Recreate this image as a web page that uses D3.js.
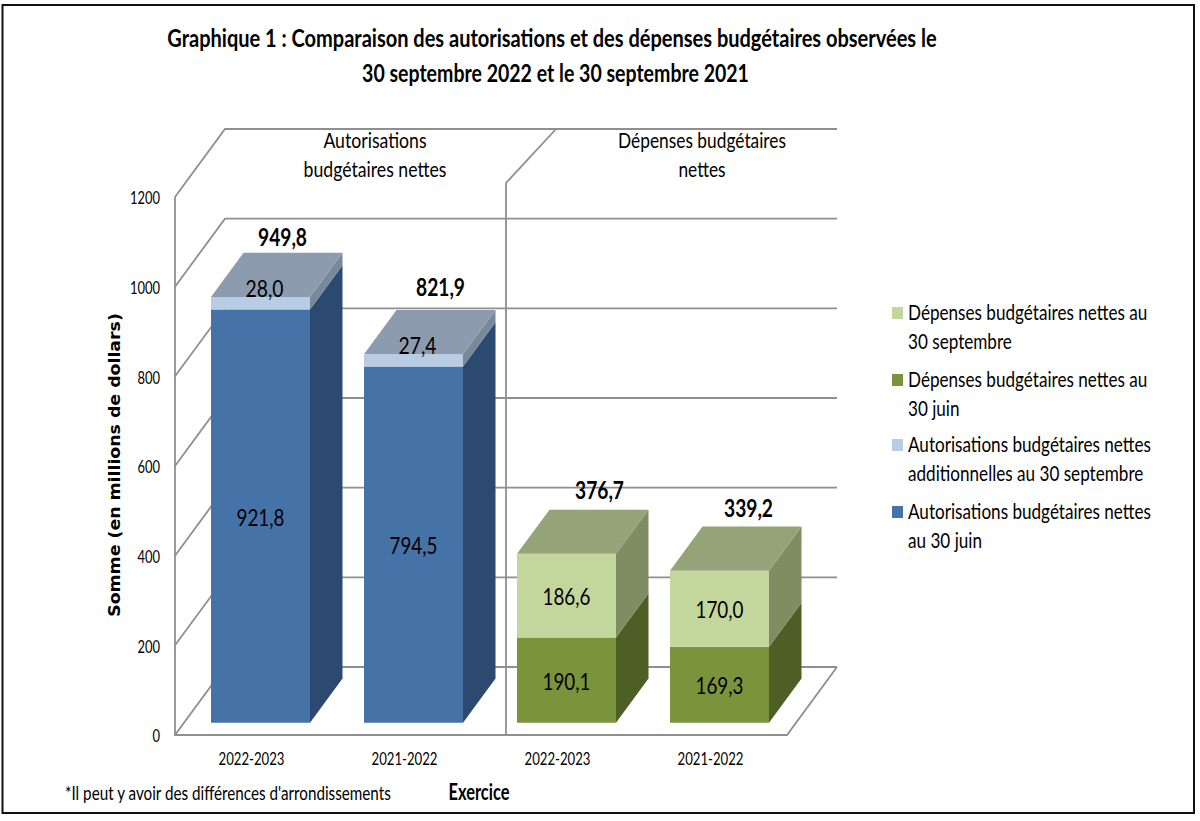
<!DOCTYPE html>
<html>
<head>
<meta charset="utf-8">
<script src="https://cdn.jsdelivr.net/npm/d3@7"></script>
<style>
html, body { margin: 0; padding: 0; background: #fff; }
svg { display: block; }
text { font-family: Lato, "Liberation Sans", sans-serif; fill: #000; }
</style>
</head>
<body>
<div id="chart"></div>
<script>
var categories = ['2022-2023', '2021-2022', '2022-2023 ', '2021-2022 '];
var yTicks = [0, 200, 400, 600, 800, 1000, 1200];

var autorisationsJuin = [921.8, 794.5, 0, 0];
var autorisationsSept = [28.0, 27.4, 0, 0];
var depensesJuin = [0, 0, 190.1, 169.3];
var depensesSept = [0, 0, 186.6, 170.0];
var totals = [949.8, 821.9, 376.7, 339.2];

var titleLines = ['Graphique 1 : Comparaison des autorisations et des dépenses budgétaires observées le', '30 septembre 2022 et le 30 septembre 2021'];
var legendLabels = [
	['Dépenses budgétaires nettes au', '30 septembre'],
	['Dépenses budgétaires nettes au', '30 juin'],
	['Autorisations budgétaires nettes', 'additionnelles au 30 septembre'],
	['Autorisations budgétaires nettes', 'au 30 juin']
];

var width = 1200, height = 821;
var depthX = 50, depthY = 68;   // floor depth, front edge to back wall
var barZ0 = 0.18, barZ1 = 0.83; // where the bars sit in that depth

var svg = d3.select('#chart').append('svg')
	.attr('width', width)
	.attr('height', height);

svg.append('rect')
	.attr('x', 2.5).attr('y', 5)
	.attr('width', 1191.5).attr('height', 808)
	.attr('fill', '#fff')
	.attr('stroke', '#111')
	.attr('stroke-width', 2);

var x = d3.scaleBand().domain(categories).range([175, 787]);
var y = d3.scaleLinear().domain([0, 1200]).range([735, 197]);

var rows = categories.map(function(c, i) {
	return {cat: c, aJuin: autorisationsJuin[i], aSept: autorisationsSept[i], dJuin: depensesJuin[i], dSept: depensesSept[i], total: totals[i]};
});
var series = d3.stack().keys(['aJuin', 'aSept', 'dJuin', 'dSept'])(rows);

var colors = {
	aJuin: {front: '#4572a7', side: '#2c4a70', top: '#8c9bad'},
	aSept: {front: '#b8cce4', side: '#78899a', top: '#8c9bad'},
	dJuin: {front: '#7a943c', side: '#4d5f25', top: '#94a478'},
	dSept: {front: '#c3d69b', side: '#7e8d62', top: '#94a478'}
};

var numFormat = d3.formatLocale({decimal: ',', thousands: ' ', grouping: [3], currency: ['', '']}).format('.1f');
var path = d3.line();

// value + depth -> screen point
function pt(px, v, z) {
	return [px + z * depthX, y(v) - z * depthY];
}

// no Calibri here, so squeeze the text so the longest one gets the wanted width
function fitTo(sel, target) {
	var longest = 0;
	sel.each(function() { longest = Math.max(longest, this.getComputedTextLength()); });
	var k = target / longest;
	sel.each(function() {
		var t = d3.select(this);
		var tx = +t.attr('x') || 0, ty = +t.attr('y') || 0;
		t.attr('x', 0).attr('y', 0)
			.attr('transform', 'translate(' + tx + ',' + ty + ') scale(' + k + ',1)');
	});
}

// walls and floor
var grid = svg.append('g')
	.attr('fill', 'none')
	.attr('stroke', '#8f8f8f')
	.attr('stroke-width', 1.8);

var x0 = x.range()[0], x1 = x.range()[1];

grid.selectAll('.wall')
	.data(yTicks)
	.enter().append('path')
	.attr('d', function(d) {
		return path([[x0, y(d)], pt(x0, d, 1), pt(x1, d, 1)]);
	});
grid.append('path').attr('d', path([[x0, y(1200)], [x0, y(0)], [x1, y(0)], pt(x1, 0, 1)]));

var middle = x(categories[2]) + depthX / 2;
grid.append('path').attr('d', path([pt(middle, 1200, 1), [middle, y(1200) - 14], [middle, y(0)]]));

// bars
var barWidth = 99;
function barLeft(d) {
	return x(d.data.cat) + (x.bandwidth() - barWidth) / 2;
}

series.forEach(function(s) {
	var c = colors[s.key];
	var g = svg.append('g');
	var segs = s.filter(function(d) { return d[1] > d[0]; });

	g.selectAll('.side').data(segs).enter().append('path')
		.attr('fill', c.side)
		.attr('d', function(d) {
			var r = barLeft(d) + barWidth;
			return path([pt(r, d[0], barZ0), pt(r, d[0], barZ1), pt(r, d[1], barZ1), pt(r, d[1], barZ0)]) + 'Z';
		});
	g.selectAll('.front').data(segs).enter().append('path')
		.attr('fill', c.front)
		.attr('d', function(d) {
			var l = barLeft(d), r = l + barWidth;
			return path([pt(l, d[0], barZ0), pt(r, d[0], barZ0), pt(r, d[1], barZ0), pt(l, d[1], barZ0)]) + 'Z';
		});
	g.selectAll('.top').data(segs.filter(function(d) { return Math.abs(d[1] - d.data.aJuin - d.data.aSept - d.data.dJuin - d.data.dSept) < 0.01; }))
		.enter().append('path')
		.attr('fill', c.top)
		.attr('d', function(d) {
			var l = barLeft(d), r = l + barWidth;
			return path([pt(l, d[1], barZ0), pt(r, d[1], barZ0), pt(r, d[1], barZ1), pt(l, d[1], barZ1)]) + 'Z';
		});
});

// segment labels
var nudge = {aJuin: [0, 1], aSept: [4, -15], dJuin: [0, 1], dSept: [0, 1]};
series.forEach(function(s) {
	var t = svg.append('g').selectAll('text')
		.data(s.filter(function(d) { return d[1] > d[0]; }))
		.enter().append('text')
		.attr('text-anchor', 'middle')
		.attr('dy', '0.35em')
		.attr('font-size', 24)
		.attr('x', function(d) { return pt(barLeft(d) + barWidth / 2, 0, barZ0)[0] + nudge[s.key][0]; })
		.attr('y', function(d) { return pt(0, (d[0] + d[1]) / 2, barZ0)[1] + nudge[s.key][1]; })
		.text(function(d) { return numFormat(d[1] - d[0]); });
	fitTo(t, s.key === 'aSept' ? 38 : 48);
});

// totals
var totalNudge = [[22, -15], [27, -22], [33, -19], [29, -18]];
var totalText = svg.append('g').selectAll('text')
	.data(rows)
	.enter().append('text')
	.attr('text-anchor', 'middle')
	.attr('dy', '0.35em')
	.attr('font-size', 24)
	.attr('font-weight', 'bold')
	.attr('x', function(d, i) { return x(d.cat) + x.bandwidth() / 2 + barZ0 * depthX + totalNudge[i][0]; })
	.attr('y', function(d, i) {
		var top = d.aJuin + d.aSept + d.dJuin + d.dSept;
		return pt(0, top, barZ1)[1] + totalNudge[i][1];
	})
	.text(function(d) { return numFormat(d.total); });
fitTo(totalText, 49);

// axes
var yAxis = svg.append('g')
	.attr('transform', 'translate(' + x0 + ',1)')
	.call(d3.axisLeft(y).tickValues(yTicks).tickFormat(d3.format('d')).tickSize(0).tickPadding(15));
yAxis.select('.domain').remove();
yAxis.selectAll('text').attr('font-size', 18).attr('font-family', 'Lato, sans-serif').attr('fill', '#000');
fitTo(yAxis.selectAll('text'), 30);

var xAxis = svg.append('g')
	.attr('transform', 'translate(0,' + y(0) + ')')
	.call(d3.axisBottom(x).tickSize(0).tickPadding(17));
xAxis.select('.domain').remove();
xAxis.selectAll('text').attr('font-size', 18).attr('font-family', 'Lato, sans-serif').attr('fill', '#000');
fitTo(xAxis.selectAll('text'), 66);

// title
var titleWidths = [770, 387];
var titleX = [552, 555.5];
svg.append('g').selectAll('text')
	.data(titleLines)
	.enter().append('text')
	.attr('text-anchor', 'middle')
	.attr('x', function(d, i) { return titleX[i]; })
	.attr('y', function(d, i) { return 47 + i * 35; })
	.attr('font-size', 24)
	.attr('font-weight', 'bold')
	.text(function(d) { return d; })
	.each(function(d, i) { fitTo(d3.select(this), titleWidths[i]); });

// panel headings
var headings = [
	{x: 375, lines: ['Autorisations', 'budgétaires nettes']},
	{x: 702, lines: ['Dépenses budgétaires', 'nettes']}
];
headings.forEach(function(h, i) {
	var t = svg.append('g').selectAll('text')
		.data(h.lines)
		.enter().append('text')
		.attr('text-anchor', 'middle')
		.attr('x', h.x)
		.attr('y', function(d, i) { return 148 + i * 29; })
		.attr('font-size', 22)
		.text(function(d) { return d; });
	fitTo(t, i === 0 ? 143 : 168);
});

// legend
var legendColors = [colors.dSept.front, colors.dJuin.front, colors.aSept.front, colors.aJuin.front];
var legendY = [313, 380, 445, 512];
var legend = svg.append('g').selectAll('g')
	.data(legendLabels)
	.enter().append('g')
	.attr('transform', function(d, i) { return 'translate(892,' + legendY[i] + ')'; });
legend.append('rect')
	.attr('y', -6)
	.attr('width', 11)
	.attr('height', 12)
	.attr('fill', function(d, i) { return legendColors[i]; });
var legendText = legend.selectAll('text')
	.data(function(d) { return d; })
	.enter().append('text')
	.attr('x', 16)
	.attr('y', function(d, i) { return 7 + i * 29; })
	.attr('font-size', 22)
	.text(function(d) { return d; });
fitTo(legendText, 243);

// axis titles, footnote
var yTitle = svg.append('text')
	.attr('transform', 'translate(120,465) rotate(-90)')
	.attr('text-anchor', 'middle')
	.style('font-family', '"DejaVu Sans", sans-serif')
	.attr('font-size', 15)
	.attr('font-weight', 'bold')
	.text('Somme (en millions de dollars)');
yTitle.attr('transform', 'translate(120,465) rotate(-90) scale(' + (304 / yTitle.node().getComputedTextLength()) + ',1)');

var exercice = svg.append('text')
	.attr('x', 479).attr('y', 800)
	.attr('text-anchor', 'middle')
	.attr('font-size', 22)
	.attr('font-weight', 'bold')
	.text('Exercice');
fitTo(exercice, 61);

var footnote = svg.append('text')
	.attr('x', 65).attr('y', 800)
	.attr('font-size', 20)
	.text("*Il peut y avoir des différences d'arrondissements");
fitTo(footnote, 326);
</script>
</body>
</html>
